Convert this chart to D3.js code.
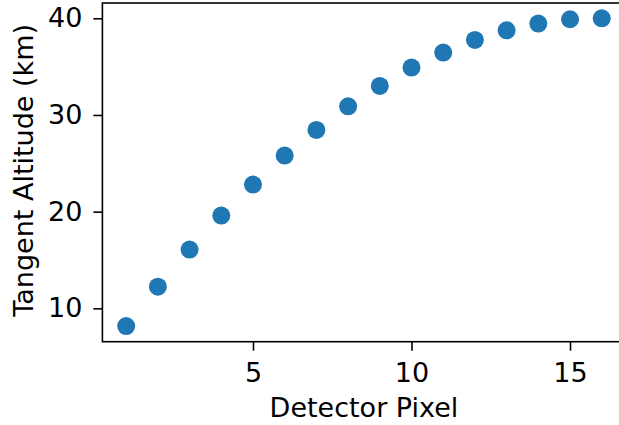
<!DOCTYPE html>
<html>
<head>
<meta charset="utf-8">
<script src="https://cdn.jsdelivr.net/npm/d3@7"></script>
<style>
  body { margin: 0; background: #fff; }
  svg { display: block; }
  text { font-family: "DejaVu Sans", sans-serif; fill: #000; }
</style>
</head>
<body>
<svg width="619" height="425"></svg>
<script>
// data
const pixels = [1, 2, 3, 4, 5, 6, 7, 8, 9, 10, 11, 12, 13, 14, 15, 16];
const altitudes = [8.17, 12.24, 16.08, 19.6, 22.8, 25.8, 28.45, 30.9, 33.0, 34.9, 36.45, 37.76, 38.76, 39.45, 39.9, 40.0];
const xTicks = [5, 10, 15];
const yTicks = [10, 20, 30, 40];

const margin = { top: 3, left: 102.4 },
    width = 523.1,
    height = 338.7;

const svg = d3.select("svg");
const g = svg.append("g").attr("transform", `translate(${margin.left},${margin.top})`);

const x = d3.scaleLinear().domain([0.25, 16.75]).range([0, width]);
const y = d3.scaleLinear().domain([6.55, 41.58]).range([height, 0]);

// points
g.selectAll(".dot")
    .data(pixels)
    .enter().append("circle")
    .attr("class", "dot")
    .attr("cx", d => x(d))
    .attr("cy", (d, i) => y(altitudes[i]))
    .attr("r", 9)
    .attr("fill", "#1f77b4");

// axes
const xAxis = g.append("g")
    .attr("transform", `translate(0,${height})`)
    .call(d3.axisBottom(x).tickValues(xTicks).tickSize(9).tickPadding(12).tickFormat(d3.format("d")));
const yAxis = g.append("g")
    .call(d3.axisLeft(y).tickValues(yTicks).tickSize(9).tickPadding(11).tickFormat(d3.format("d")));

[xAxis, yAxis].forEach(a => {
    a.select(".domain").remove();
    a.selectAll("line").attr("stroke", "#000").attr("stroke-width", 1.6);
    a.selectAll("text").style("font-size", "27px").style("font-family", "DejaVu Sans");
});

// spines
g.append("rect")
    .attr("width", width)
    .attr("height", height)
    .attr("fill", "none")
    .attr("stroke", "#000")
    .attr("stroke-width", 1.6);

// labels
svg.append("text")
    .attr("x", margin.left + width / 2)
    .attr("y", 417)
    .attr("text-anchor", "middle")
    .style("font-size", "27px")
    .text("Detector Pixel");

svg.append("text")
    .attr("transform", `translate(33,${margin.top + height / 2 - 2}) rotate(-90)`)
    .attr("text-anchor", "middle")
    .style("font-size", "27px")
    .text("Tangent Altitude (km)");
</script>
</body>
</html>
